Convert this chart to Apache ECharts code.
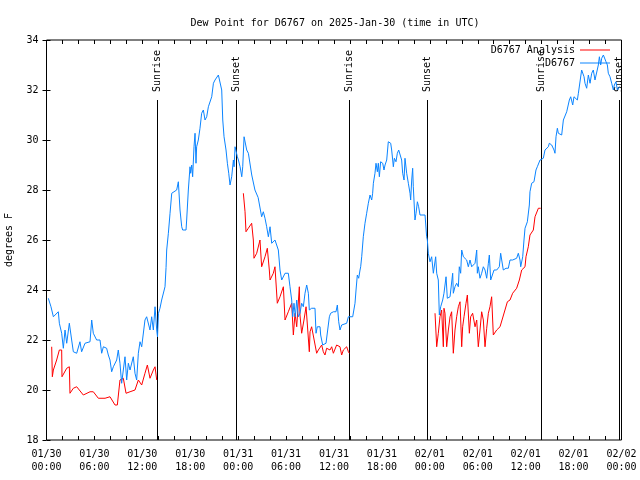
<!DOCTYPE html>
<html>
<head>
<meta charset="utf-8">
<script src="https://cdn.jsdelivr.net/npm/echarts@6/dist/echarts.min.js"></script>
<style>html,body{margin:0;padding:0;background:#fff}#c{width:640px;height:480px}</style>
</head>
<body>
<div id="c"></div>
<script>
// Hours since 2025-01-30 00:00 UTC
const obsHours = [0.23,0.56,0.86,1.48,1.61,1.90,2.11,2.32,2.53,2.86,3.15,3.36,3.78,4.19,4.40,4.82,5.03,5.45,5.66,5.86,6.28,6.70,6.91,7.12,7.53,7.74,7.95,8.16,8.37,8.79,8.99,9.20,9.41,9.62,9.83,10.04,10.25,10.46,10.87,11.08,11.29,11.50,11.71,11.92,12.33,12.54,12.75,12.96,13.17,13.38,13.59,13.80,13.90,14.02,14.21,14.42,14.63,14.84,14.97,15.05,15.26,15.47,15.68,15.88,16.30,16.51,16.72,16.93,17.05,17.47,17.55,17.76,17.97,18.05,18.18,18.30,18.47,18.60,18.72,18.80,19.01,19.22,19.43,19.64,19.85,20.06,20.27,20.48,20.69,20.90,21.10,21.31,21.52,21.73,21.94,22.07,22.23,22.48,22.65,22.82,22.98,23.19,23.40,23.49,23.61,23.74,23.90,24.03,24.24,24.45,24.57,24.74,24.87,25.07,25.28,25.41,25.70,26.10,26.50,26.94,27.15,27.36,27.57,27.78,27.99,28.20,28.40,28.61,28.82,29.03,29.24,29.45,29.66,29.87,30.28,30.49,30.70,30.83,30.99,31.16,31.33,31.53,31.74,31.95,32.16,32.37,32.58,32.79,32.91,33.20,33.62,33.75,33.91,34.25,34.33,34.58,35.00,35.21,35.42,35.58,35.92,36.25,36.42,36.59,36.75,36.96,37.17,37.59,37.80,38.00,38.34,38.63,38.76,38.92,39.09,39.26,39.34,39.47,39.67,39.88,40.09,40.30,40.51,40.72,40.84,40.93,41.13,41.26,41.43,41.55,41.68,41.84,42.10,42.26,42.39,42.60,42.80,42.93,43.10,43.22,43.35,43.43,43.56,43.76,43.93,44.10,44.26,44.35,44.47,44.60,44.77,44.89,45.10,45.31,45.52,45.60,45.73,45.85,45.93,46.14,46.27,46.44,46.60,46.77,46.98,47.40,47.60,47.69,47.81,48.02,48.23,48.44,48.56,48.73,48.86,49.06,49.19,49.36,49.61,49.77,50.03,50.19,50.53,50.86,50.94,51.15,51.36,51.57,51.69,51.86,51.99,52.20,52.61,52.82,53.03,53.24,53.45,53.66,53.87,53.95,54.07,54.28,54.49,54.70,54.91,55.12,55.33,55.45,55.62,55.87,56.04,56.37,56.70,56.87,57.00,57.20,57.54,57.83,58.04,58.37,58.87,59.08,59.29,59.38,59.63,59.79,59.92,60.21,60.46,60.54,60.75,61.04,61.29,61.46,61.59,61.80,62.21,62.42,62.84,62.96,63.26,63.47,63.55,63.67,63.80,63.97,64.09,64.30,64.51,64.72,64.93,65.14,65.34,65.47,65.64,65.89,66.05,66.30,66.47,66.60,66.81,67.01,67.22,67.31,67.43,67.64,67.85,68.06,68.27,68.47,68.68,68.89,69.10,69.23,69.39,69.52,69.73,69.94,70.06,70.23,70.35,70.56,70.77,70.98,71.10,71.31,71.48,71.60,71.73];
const obsValues = [23.67,23.33,22.93,23.13,22.67,22.27,21.67,22.40,21.87,22.67,22.00,21.53,21.47,21.93,21.53,21.87,21.93,21.93,22.80,22.27,22.00,22.00,21.47,21.73,21.67,21.40,21.20,20.73,20.93,21.20,21.60,21.07,20.27,20.80,21.33,20.40,21.07,20.80,21.33,20.67,20.40,21.47,21.93,21.73,22.80,22.93,22.93,22.40,22.93,22.40,23.33,22.40,22.13,23.07,23.27,23.60,23.67,24.13,24.90,25.60,26.27,27.07,27.87,27.93,28.00,28.33,27.20,26.53,26.40,26.40,26.80,28.00,28.93,28.67,29.00,28.53,29.73,30.27,29.07,29.73,30.00,30.47,31.07,31.20,30.80,30.93,31.33,31.40,31.73,32.27,32.40,32.33,32.60,32.60,32.00,30.80,30.13,29.60,29.07,28.67,28.20,28.53,29.20,28.93,29.73,29.80,29.33,29.20,28.93,28.53,28.93,30.13,30.20,29.60,29.47,29.20,28.60,28.00,27.70,26.93,27.13,26.87,26.53,26.13,26.53,25.87,25.93,26.00,26.00,25.60,24.80,24.40,24.40,24.67,24.67,24.13,23.60,22.93,23.47,22.93,23.60,22.93,23.07,23.47,23.33,23.87,24.20,23.87,23.20,23.27,23.27,22.27,22.53,22.53,22.20,21.80,21.87,21.80,22.93,23.07,23.13,23.13,23.40,22.73,22.40,22.60,22.67,22.67,22.93,22.93,22.93,23.47,24.00,24.60,24.47,24.80,24.93,25.33,26.13,26.67,27.07,27.47,27.80,27.60,27.87,28.27,28.67,29.07,28.73,29.07,28.53,29.13,29.07,28.80,29.00,29.20,29.93,30.00,29.87,29.60,29.20,28.93,29.27,29.13,29.47,29.60,29.60,29.67,29.20,28.67,28.40,29.27,28.67,28.27,27.87,27.60,28.40,28.87,28.13,26.80,27.07,27.53,27.33,27.00,27.07,27.00,26.13,26.00,25.47,25.13,25.33,24.67,24.67,25.33,24.67,24.40,23.00,23.33,23.60,23.87,24.53,23.67,23.73,24.67,23.87,24.13,24.27,24.13,24.93,24.67,25.60,25.33,25.20,24.93,25.20,24.93,24.87,25.07,25.60,24.67,24.93,24.47,24.67,24.93,24.80,24.47,25.07,25.40,24.40,24.47,24.80,24.80,24.93,25.47,25.20,24.80,24.87,24.87,25.20,25.20,25.27,25.47,25.20,24.93,25.33,26.00,26.47,26.73,27.40,27.93,28.27,28.33,28.80,28.93,28.87,29.20,29.27,29.60,29.73,29.87,29.80,29.80,29.60,29.47,30.13,30.47,30.27,30.20,30.20,30.80,30.87,31.13,31.20,31.60,31.73,31.40,31.73,31.67,31.60,31.87,31.93,32.80,32.80,32.53,32.27,32.07,32.60,32.27,32.67,32.80,32.40,32.40,33.00,33.33,33.00,33.27,33.40,33.40,33.13,33.00,32.67,32.53,32.27,32.00,32.20,32.33,32.00,31.93,32.13];

const anaHours = [0.65,0.73,0.86,1.27,1.61,1.90,1.94,2.53,2.86,2.94,3.36,3.78,4.61,5.45,5.86,6.49,7.33,7.95,8.58,8.87,9.20,9.62,9.83,9.96,10.46,11.08,11.50,11.71,11.92,12.33,12.63,12.96,13.38,13.59,13.80,
  19.0,
  24.65,24.86,24.98,25.27,25.69,25.90,25.98,26.32,26.73,26.94,27.36,27.65,27.90,27.99,28.40,28.61,28.90,29.24,29.66,29.87,30.28,30.70,30.91,31.12,31.33,31.66,31.74,31.95,32.24,32.50,32.66,32.91,33.00,33.20,33.83,34.04,34.46,34.66,34.87,35.08,35.50,35.71,35.92,36.33,36.75,36.96,37.17,37.59,37.80,37.92,
  43.0,
  48.65,48.86,49.06,49.27,49.48,49.69,49.77,49.90,50.11,50.32,50.53,50.73,50.94,51.15,51.36,51.57,51.78,51.99,52.11,52.28,52.53,52.70,52.95,53.11,53.36,53.66,53.87,54.07,54.28,54.49,54.70,54.91,55.12,55.33,55.53,55.74,55.95,56.37,56.79,57.00,57.41,57.71,58.04,58.37,58.87,59.21,59.50,59.92,60.04,60.33,60.54,60.96,61.17,61.59,61.88];
const anaValues = [21.73,20.53,20.80,21.20,21.60,21.60,20.53,20.87,20.93,19.87,20.07,20.13,19.80,19.93,19.93,19.67,19.67,19.73,19.40,19.40,20.40,20.47,20.53,19.87,19.93,20.00,20.40,20.47,20.20,20.67,21.00,20.47,20.80,20.93,20.40,
  null,
  27.87,27.13,26.33,26.47,26.67,26.00,25.27,25.47,26.00,24.93,25.33,25.67,24.80,24.40,24.67,24.93,23.47,23.73,24.13,22.80,23.13,23.47,22.20,23.07,22.53,24.13,23.00,22.27,22.80,23.33,23.33,21.53,22.33,22.53,21.47,21.60,21.80,21.53,21.40,21.67,21.60,21.73,21.47,21.80,21.73,21.40,21.60,21.73,21.53,21.47,
  null,
  23.07,21.73,22.27,22.93,23.20,21.73,23.27,23.07,21.73,22.40,22.93,23.13,21.47,22.40,22.93,23.33,23.53,21.73,22.53,22.93,23.47,23.80,22.27,22.93,23.07,22.53,22.80,21.73,22.40,23.13,22.80,21.73,22.47,23.07,23.33,23.73,22.20,22.40,22.53,22.53,23.20,23.53,23.60,23.87,24.07,24.40,24.80,24.93,25.33,25.73,26.20,26.40,26.93,27.27,27.27];

const sunHours = [13.87, 23.73, 37.92, 47.68, 61.88, 71.72];
const sunLabels = ['Sunrise', 'Sunset', 'Sunrise', 'Sunset', 'Sunrise', 'Sunset'];

const xTickLabels = ['01/30\n00:00','01/30\n06:00','01/30\n12:00','01/30\n18:00','01/31\n00:00','01/31\n06:00','01/31\n12:00','01/31\n18:00','02/01\n00:00','02/01\n06:00','02/01\n12:00','02/01\n18:00','02/02\n00:00'];

const seriesNames = ['D6767 Analysis', 'D6767'];
const seriesColors = ['#ff0000', '#0a84ff'];
const FONT = '"DejaVu Sans Mono", "Liberation Mono", monospace';

const obsData = obsHours.map((h, i) => [h, obsValues[i]]);
const anaData = anaHours.map((h, i) => [h, anaValues[i]]);

const chart = echarts.init(document.getElementById('c'), null, {renderer: 'canvas'});
const tickCommon = {show: true, inside: true, length: 4, lineStyle: {color: '#000', width: 1}};
chart.setOption({
  animation: false,
  backgroundColor: '#fff',
  title: {
    text: 'Dew Point for D6767 on 2025-Jan-30 (time in UTC)',
    left: 330, top: 13, textAlign: 'center',
    textStyle: {fontFamily: FONT, fontSize: 10, fontWeight: 'normal', color: '#000'}
  },
  legend: {
    data: seriesNames.map((n, i) => ({name: n, icon: 'rect', itemStyle: {color: seriesColors[i]}})),
    orient: 'vertical', right: 30, top: 44,
    align: 'right',
    itemWidth: 30, itemHeight: 1, itemGap: 1,
    padding: 0,
    formatter: n => n.padStart(14, ' '),
    textStyle: {fontFamily: FONT, fontSize: 10, color: '#000', lineHeight: 12}
  },
  grid: {left: 46.5, right: 18.5, top: 40, bottom: 40, outerBoundsMode: 'none', containLabel: false, show: true, borderColor: '#000', borderWidth: 1, backgroundColor: 'transparent'},
  xAxis: [{
    type: 'value', min: 0, max: 72, interval: 2, position: 'bottom',
    axisLine: {show: false}, splitLine: {show: false},
    axisTick: tickCommon,
    axisLabel: {
      margin: 8, lineHeight: 13, fontFamily: FONT, fontSize: 10, color: '#000',
      formatter: v => (v % 6 === 0 ? xTickLabels[v / 6] : '')
    }
  }, {
    type: 'value', min: 0, max: 72, interval: 2, position: 'top',
    axisLine: {show: false}, splitLine: {show: false},
    axisTick: tickCommon, axisLabel: {show: false}
  }],
  yAxis: [{
    type: 'value', min: 18, max: 34, interval: 2, position: 'left',
    name: 'degrees F', nameLocation: 'middle', nameGap: 32,
    nameTextStyle: {fontFamily: FONT, fontSize: 10, color: '#000'},
    axisLine: {show: false}, splitLine: {show: false},
    axisTick: tickCommon,
    axisLabel: {margin: 8, fontFamily: FONT, fontSize: 10, color: '#000'}
  }, {
    type: 'value', min: 18, max: 34, interval: 2, position: 'right',
    axisLine: {show: false}, splitLine: {show: false},
    axisTick: tickCommon, axisLabel: {show: false}
  }],
  series: [{
    name: seriesNames[0], type: 'line', data: anaData,
    symbol: 'none', connectNulls: false,
    lineStyle: {color: seriesColors[0], width: 1}, itemStyle: {color: seriesColors[0]}
  }, {
    name: seriesNames[1], type: 'line', data: obsData,
    symbol: 'none',
    lineStyle: {color: seriesColors[1], width: 1}, itemStyle: {color: seriesColors[1]}
  }, {
    type: 'custom', name: 'sun', silent: true,
    data: sunHours.map(h => [h, 18]),
    renderItem: function (params, api) {
      const cs = params.coordSys;
      const x = Math.round(api.coord([api.value(0), api.value(1)])[0]) + 0.5;
      return {
        type: 'group',
        children: [{
          type: 'line',
          shape: {x1: x, y1: cs.y + cs.height, x2: x, y2: cs.y + 60},
          style: {stroke: '#000', lineWidth: 1}
        }, {
          type: 'text', x: x, y: cs.y + 52, rotation: Math.PI / 2,
          style: {text: sunLabels[params.dataIndex], fill: '#000', font: '10px ' + FONT, textAlign: 'left', textVerticalAlign: 'middle'}
        }]
      };
    }
  }]
});
</script>
</body>
</html>
